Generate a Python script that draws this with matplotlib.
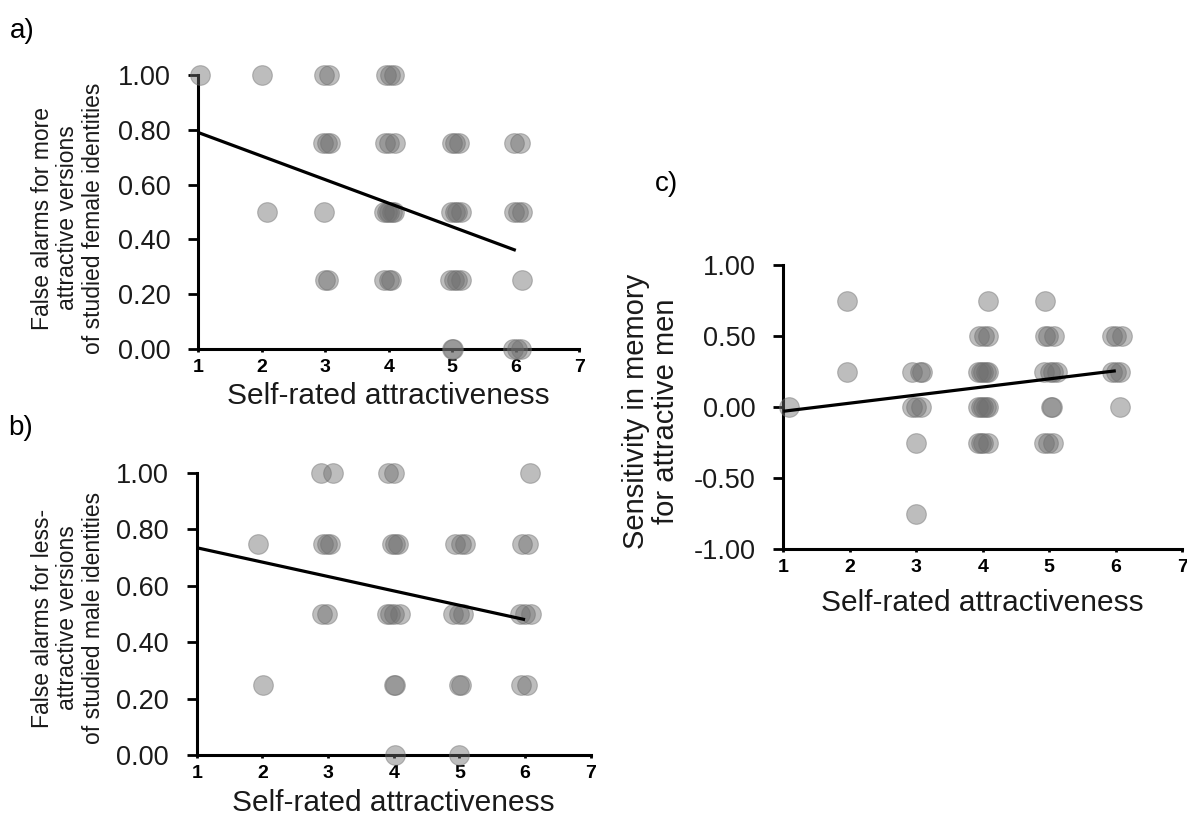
import matplotlib
matplotlib.use("Agg")
import matplotlib.pyplot as plt

plt.rcParams['font.family'] = ['Liberation Sans', 'DejaVu Sans']

# panel a: false alarms, more attractive female identities (x jittered as drawn)
xa = [1.03, 2.00, 2.98, 3.06, 3.96, 4.02, 4.08,
      2.96, 3.02, 3.08, 3.94, 4.00, 4.09, 5.00, 5.04, 5.10, 5.97, 6.07,
      2.08, 2.98, 3.93, 3.97, 4.00, 4.05, 4.08, 4.98, 5.04, 5.08, 5.13, 5.97, 6.03, 6.09,
      3.00, 3.05, 3.93, 4.00, 4.03, 4.97, 5.03, 5.08, 5.14, 6.10,
      4.99, 5.01, 5.96, 6.02, 6.08]
ya = [1.00] * 7 + [0.75] * 11 + [0.50] * 14 + [0.25] * 10 + [0.00] * 5
fit_a = [0.79, 0.36]

# panel b: false alarms, less attractive male identities
xb = [2.90, 3.07, 3.91, 4.00, 6.08,
      1.93, 2.92, 2.98, 3.03, 3.97, 4.02, 4.07, 4.94, 5.02, 5.09, 5.96, 6.04,
      2.91, 2.98, 3.90, 3.95, 4.00, 4.09, 4.91, 5.00, 5.06, 5.93, 6.00, 6.09,
      2.01, 4.00, 4.02, 5.00, 5.02, 5.94, 6.03,
      4.02, 4.99]
yb = [1.00] * 5 + [0.75] * 12 + [0.50] * 12 + [0.25] * 7 + [0.00] * 2
fit_b = [0.735, 0.48]

# panel c: sensitivity for attractive men
xc = [1.96, 4.08, 4.93,
      3.95, 4.02, 4.08, 4.93, 4.98, 5.07, 5.94, 6.01, 6.09,
      1.96, 2.94, 3.06, 3.09, 3.93, 3.97, 4.00, 4.05, 4.08, 4.92, 5.01, 5.06, 5.11, 5.94, 6.00, 6.06,
      1.09, 2.93, 3.00, 3.07, 3.93, 3.97, 4.00, 4.05, 4.08, 5.02, 5.04, 6.06,
      3.00, 3.93, 3.97, 4.00, 4.08, 4.92, 4.98, 5.05,
      3.00]
yc = [0.75] * 3 + [0.50] * 9 + [0.25] * 16 + [0.00] * 12 + [-0.25] * 8 + [-0.75]
fit_c = [-0.03, 0.255]

fit_x = [1, 6]
xticks = [1, 2, 3, 4, 5, 6, 7]
xlab = 'Self-rated attractiveness'

W, H = 1187, 821
fig = plt.figure(figsize=(W / 100, H / 100), dpi=100)


def panel(rect, xs, ys, fit, ylim, yticks, ylabels, lpad):
    ax = fig.add_axes(rect)
    ax.scatter(xs, ys, s=200, color='#6e6e6e', alpha=0.45, linewidths=0.8,
               clip_on=False, zorder=3)
    ax.plot(fit_x, fit, color='black', lw=2.3, zorder=4, solid_capstyle='butt')
    ax.set_xlim(1, 7)
    ax.set_ylim(*ylim)
    ax.set_xticks(xticks)
    ax.set_xticklabels([str(t) for t in xticks], fontsize=14, fontweight='bold')
    ax.set_yticks(yticks)
    ax.set_yticklabels(ylabels, fontsize=19.5, color='#1a1a1a')
    for s in ['top', 'right']:
        ax.spines[s].set_visible(False)
    for s in ['left', 'bottom']:
        ax.spines[s].set_linewidth(2.2)
    ax.tick_params(axis='y', length=7, width=2, pad=13)
    ax.tick_params(axis='x', length=2.5, width=2, pad=5)
    ax.set_xlabel(xlab, fontsize=21.5, color='#1a1a1a', labelpad=lpad)
    return ax


fa_ticks = [0, 0.2, 0.4, 0.6, 0.8, 1.0]
fa_labels = ['0.00', '0.20', '0.40', '0.60', '0.80', '1.00']

panel([198.3 / W, 1 - 349 / H, 381 / W, 274 / H], xa, ya, fit_a, (0, 1), fa_ticks, fa_labels, 4)
panel([196.7 / W, 1 - 755 / H, 394 / W, 282 / H], xb, yb, fit_b, (0, 1), fa_ticks, fa_labels, 5)
panel([783.3 / W, 1 - 549 / H, 399 / W, 284 / H], xc, yc, fit_c, (-1, 1),
      [-1, -0.5, 0, 0.5, 1], ['-1.00', '-0.50', '0.00', '0.50', '1.00'], 9)

fig.text(68 / W, 1 - 218 / H,
         'False alarms for more\nattractive versions\nof studied female identities',
         rotation=90, ha='center', va='center', fontsize=16.5, linespacing=1.12,
         color='#1a1a1a')
fig.text(68 / W, 1 - 618 / H,
         'False alarms for less-\nattractive versions\nof studied male identities',
         rotation=90, ha='center', va='center', fontsize=16.5, linespacing=1.12,
         color='#1a1a1a')
fig.text(651 / W, 1 - 411 / H, 'Sensitivity in memory\nfor attractive men',
         rotation=90, ha='center', va='center', fontsize=21, linespacing=1.05,
         color='#1a1a1a')

fig.text(22 / W, 1 - 31 / H, 'a)', ha='center', va='center', fontsize=20)
fig.text(21 / W, 1 - 428 / H, 'b)', ha='center', va='center', fontsize=20)
fig.text(667 / W, 1 - 184 / H, 'c)', ha='center', va='center', fontsize=20)

fig.savefig('out.png', dpi=100)
